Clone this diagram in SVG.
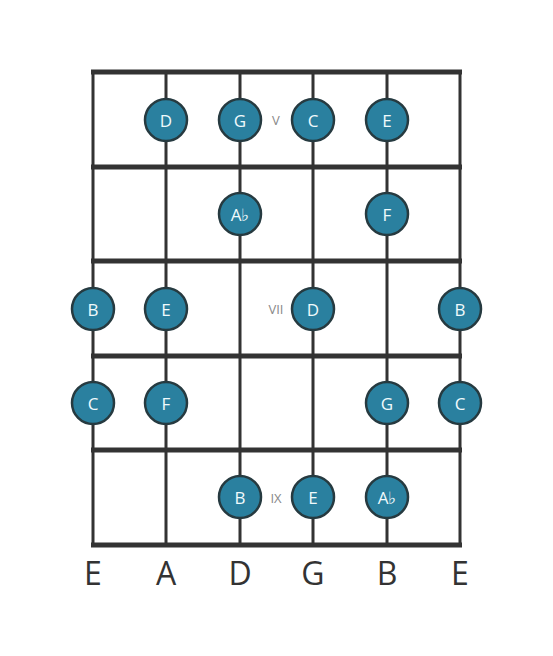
<svg xmlns="http://www.w3.org/2000/svg" width="553" height="656" viewBox="0 0 553 656">
<style>
.str{stroke:#333;stroke-width:3}
.fret{stroke:#333;stroke-width:5}
.note circle{fill:#2a809f;stroke:#263a40;stroke-width:2.5}
.note text{fill:#f0fafc;font-family:"Open Sans",sans-serif;font-size:17px;text-anchor:middle;dominant-baseline:central}
.mark{fill:#888;font-family:"Open Sans",sans-serif;font-size:13px;text-anchor:middle;dominant-baseline:central}
.sname{fill:#333;font-family:"Open Sans",sans-serif;font-size:32px;text-anchor:middle}
</style>
<rect width="553" height="656" fill="#fff"/>
<g id="connectors">
<line class="str" x1="93" y1="72" x2="93" y2="545"/>
<line class="str" x1="166" y1="72" x2="166" y2="545"/>
<line class="str" x1="240" y1="72" x2="240" y2="545"/>
<line class="str" x1="313" y1="72" x2="313" y2="545"/>
<line class="str" x1="387" y1="72" x2="387" y2="545"/>
<line class="str" x1="460" y1="72" x2="460" y2="545"/>
<line class="fret" x1="91" y1="72" x2="462" y2="72"/>
<line class="fret" x1="91" y1="167" x2="462" y2="167"/>
<line class="fret" x1="91" y1="261" x2="462" y2="261"/>
<line class="fret" x1="91" y1="356" x2="462" y2="356"/>
<line class="fret" x1="91" y1="450" x2="462" y2="450"/>
<line class="fret" x1="91" y1="545" x2="462" y2="545"/>
</g>
<g id="markers">
<text class="mark" x="276" y="120">V</text>
<text class="mark" x="276" y="309">VII</text>
<text class="mark" x="276" y="498">IX</text>
</g>
<g id="n1" class="note"><circle cx="166" cy="120" r="21"/><text x="166" y="120">D</text></g>
<g id="n2" class="note"><circle cx="240" cy="120" r="21"/><text x="240" y="120">G</text></g>
<g id="n3" class="note"><circle cx="313" cy="120" r="21"/><text x="313" y="120">C</text></g>
<g id="n4" class="note"><circle cx="387" cy="120" r="21"/><text x="387" y="120">E</text></g>
<g id="n5" class="note"><circle cx="240" cy="214" r="21"/><text x="240" y="214">A♭</text></g>
<g id="n6" class="note"><circle cx="387" cy="214" r="21"/><text x="387" y="214">F</text></g>
<g id="n7" class="note"><circle cx="93" cy="309" r="21"/><text x="93" y="309">B</text></g>
<g id="n8" class="note"><circle cx="166" cy="309" r="21"/><text x="166" y="309">E</text></g>
<g id="n9" class="note"><circle cx="313" cy="309" r="21"/><text x="313" y="309">D</text></g>
<g id="n10" class="note"><circle cx="460" cy="309" r="21"/><text x="460" y="309">B</text></g>
<g id="n11" class="note"><circle cx="93" cy="403" r="21"/><text x="93" y="403">C</text></g>
<g id="n12" class="note"><circle cx="166" cy="403" r="21"/><text x="166" y="403">F</text></g>
<g id="n13" class="note"><circle cx="387" cy="403" r="21"/><text x="387" y="403">G</text></g>
<g id="n14" class="note"><circle cx="460" cy="403" r="21"/><text x="460" y="403">C</text></g>
<g id="n15" class="note"><circle cx="240" cy="497" r="21"/><text x="240" y="497">B</text></g>
<g id="n16" class="note"><circle cx="313" cy="497" r="21"/><text x="313" y="497">E</text></g>
<g id="n17" class="note"><circle cx="387" cy="497" r="21"/><text x="387" y="497">A♭</text></g>
<g id="strings">
<text class="sname" x="93" y="585">E</text>
<text class="sname" x="166" y="585">A</text>
<text class="sname" x="240" y="585">D</text>
<text class="sname" x="313" y="585">G</text>
<text class="sname" x="387" y="585">B</text>
<text class="sname" x="460" y="585">E</text>
</g>
</svg>
